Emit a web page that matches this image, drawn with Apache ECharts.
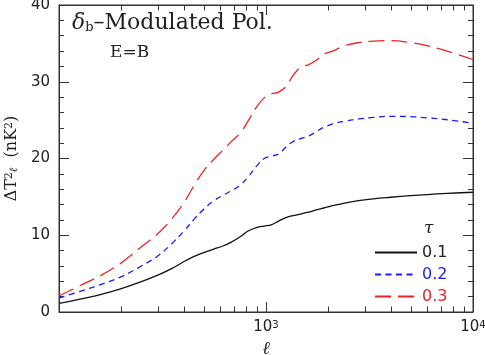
<!DOCTYPE html>
<html>
<head>
<meta charset="utf-8">
<script src="https://cdn.jsdelivr.net/npm/echarts@6/dist/echarts.min.js"></script>
<style>
html, body { margin: 0; padding: 0; background: #fff; }
#main { width: 485px; height: 355px; }
</style>
</head>
<body>
<div id="main"></div>
<script>
// multipole values (shared by all three curves)
var ell = [100, 130, 160, 200, 250, 300, 350, 400, 450, 500, 560, 620, 680, 750, 820, 900, 980, 1060,
	1150, 1250, 1350, 1470, 1600, 1750, 1900, 2100, 2400, 2800, 3300, 4000, 5000, 6000, 7500, 10000];
// tau = 0.1
var tau01 = [1.13, 1.75, 2.3, 3.05, 3.95, 4.8, 5.65, 6.55, 7.25, 7.75, 8.2, 8.6, 9.1, 9.8, 10.55, 11.0, 11.2, 11.35,
	11.85, 12.3, 12.55, 12.75, 13.0, 13.3, 13.55, 13.85, 14.2, 14.5, 14.75, 14.95, 15.15, 15.3, 15.45, 15.6];
// tau = 0.2
var tau02 = [1.8, 2.8, 3.6, 4.6, 6.0, 7.3, 8.9, 10.5, 12.1, 13.4, 14.5, 15.2, 15.8, 16.5, 17.6, 19.0, 20.0, 20.3,
	20.6, 21.5, 22.2, 22.6, 22.9, 23.5, 24.05, 24.5, 24.85, 25.15, 25.35, 25.5, 25.45, 25.3, 25.05, 24.6];
// tau = 0.3
var tau03 = [2.08, 3.6, 4.8, 6.4, 8.5, 10.2, 12.1, 14.2, 16.5, 18.4, 19.9, 21.1, 22.2, 23.3, 24.9, 26.7, 27.9, 28.4,
	28.65, 29.4, 30.8, 31.9, 32.2, 32.8, 33.6, 34.0, 34.7, 35.1, 35.3, 35.35, 35.1, 34.7, 34.0, 32.9];
var tauNames = ['0.1', '0.2', '0.3'];
var minorTicksX = [200, 300, 400, 500, 600, 700, 800, 900, 2000, 3000, 4000, 5000, 6000, 7000, 8000, 9000];

var axisCol = '#333';
var sans = 'DejaVu Sans';
var serif = 'DejaVu Serif';

function pairs(ys) {
	return ell.map(function (l, i) { return [l, ys[i]]; });
}

function xAxisCfg(pos, showLabel) {
	return {
		type: 'log',
		logBase: 10,
		min: 100,
		max: 10000,
		position: pos,
		axisLine: { show: true, onZero: false, lineStyle: { color: axisCol, width: 1 } },
		axisTick: { show: true, inside: true, length: 10, lineStyle: { color: axisCol } },
		splitLine: { show: false },
		axisLabel: {
			show: showLabel,
			margin: 8,
			formatter: function (v) {
				if (v === 1000) return '{b|10}{s|3}';
				if (v === 10000) return '{b|10}{s|4}';
				return '';
			},
			rich: {
				b: { fontFamily: sans, fontSize: 15, color: '#222' },
				s: { fontFamily: sans, fontSize: 10, color: '#222', verticalAlign: 'top' }
			}
		}
	};
}

function yAxisCfg(pos, showLabel) {
	return {
		type: 'value',
		min: 0,
		max: 40,
		interval: 10,
		position: pos,
		axisLine: { show: true, onZero: false, lineStyle: { color: axisCol, width: 1 } },
		axisTick: { show: true, inside: true, length: 10, lineStyle: { color: axisCol } },
		minorTick: { show: true, splitNumber: 5, length: 5, lineStyle: { color: axisCol } },
		splitLine: { show: false },
		axisLabel: { show: showLabel, margin: 9, fontFamily: sans, fontSize: 15, color: '#222' }
	};
}

var chart = echarts.init(document.getElementById('main'));
var option = {
	animation: false,
	grid: {
		left: 59, right: 12, top: 5, bottom: 43, outerBoundsMode: 'none', containLabel: false,
		show: true, borderColor: axisCol, borderWidth: 1, backgroundColor: 'transparent'
	},
	xAxis: [
		Object.assign(xAxisCfg('bottom', true), {
			name: 'ℓ',
			nameLocation: 'middle',
			nameGap: 22,
			nameTextStyle: { fontFamily: serif, fontStyle: 'italic', fontSize: 18, color: '#222' }
		}),
		xAxisCfg('top', false)
	],
	yAxis: [
		Object.assign(yAxisCfg('left', true), {
			name: '{n|ΔT}{sup|2}{sub|ℓ}{n|  (nK}{sup|2}{n|)}',
			nameLocation: 'middle',
			nameGap: 38,
			nameTextStyle: {
				rich: {
					n: { fontFamily: serif, fontSize: 16, color: '#222' },
					sup: { fontFamily: serif, fontSize: 11, color: '#222', verticalAlign: 'top' },
					sub: { fontFamily: serif, fontSize: 11, color: '#222', fontStyle: 'italic', verticalAlign: 'bottom' }
				}
			}
		}),
		yAxisCfg('right', false)
	],
	legend: {
		orient: 'vertical',
		left: 369,
		top: 239,
		itemWidth: 42,
		itemHeight: 14,
		itemGap: 5,
		itemStyle: { opacity: 0 },
		textStyle: { fontFamily: sans, fontSize: 16, lineHeight: 17 },
		data: [
			{ name: tauNames[0], textStyle: { color: '#222' } },
			{ name: tauNames[1], textStyle: { color: '#1a1aff' } },
			{ name: tauNames[2], textStyle: { color: '#ee2222' } }
		]
	},
	series: [
		{
			name: tauNames[0], type: 'line', smooth: 0.4, symbol: 'none',
			lineStyle: { color: '#111', width: 1.3, type: 'solid' },
			itemStyle: { color: '#111' },
			data: pairs(tau01)
		},
		{
			name: tauNames[1], type: 'line', smooth: 0.4, symbol: 'none',
			lineStyle: { color: '#1a1aff', width: 1.3, type: [6, 4.5] },
			itemStyle: { color: '#1a1aff' },
			data: pairs(tau02)
		},
		{
			name: tauNames[2], type: 'line', smooth: 0.4, symbol: 'none',
			lineStyle: { color: '#ee2222', width: 1.3, type: [16, 7] },
			itemStyle: { color: '#ee2222' },
			data: pairs(tau03)
		}
	],
	graphic: [
		{
			type: 'text', left: 72, top: 12,
			style: {
				text: '{d|δ}{b|b}{n|–Modulated Pol.}',
				rich: {
					d: { fontFamily: serif, fontStyle: 'italic', fontSize: 22, fill: '#222' },
					b: { fontFamily: serif, fontSize: 13, fill: '#222', verticalAlign: 'bottom', padding: [9, 0, 0, 0] },
					n: { fontFamily: serif, fontSize: 22, fill: '#222' }
				}
			}
		},
		{
			type: 'text', left: 110, top: 44,
			style: { text: 'E=B', fontFamily: serif, fontSize: 17, fill: '#222' }
		},
		{
			type: 'text', left: 424, top: 220,
			style: { text: 'τ', fontFamily: serif, fontStyle: 'italic', fontSize: 17, fill: '#222' }
		}
	]
};
chart.setOption(option);

// minor ticks of the log axis (bottom and top)
var yTopPx = chart.convertToPixel({ yAxisIndex: 0 }, 40);
var yBotPx = chart.convertToPixel({ yAxisIndex: 0 }, 0);
var ticks = [];
minorTicksX.forEach(function (v) {
	var x = Math.round(chart.convertToPixel({ xAxisIndex: 0 }, v)) + 0.5;
	ticks.push({ type: 'line', shape: { x1: x, y1: yBotPx, x2: x, y2: yBotPx - 5.5 }, style: { stroke: axisCol, lineWidth: 1 } });
	ticks.push({ type: 'line', shape: { x1: x, y1: yTopPx, x2: x, y2: yTopPx + 5.5 }, style: { stroke: axisCol, lineWidth: 1 } });
});
chart.setOption({ graphic: option.graphic.concat(ticks) });
</script>
</body>
</html>
